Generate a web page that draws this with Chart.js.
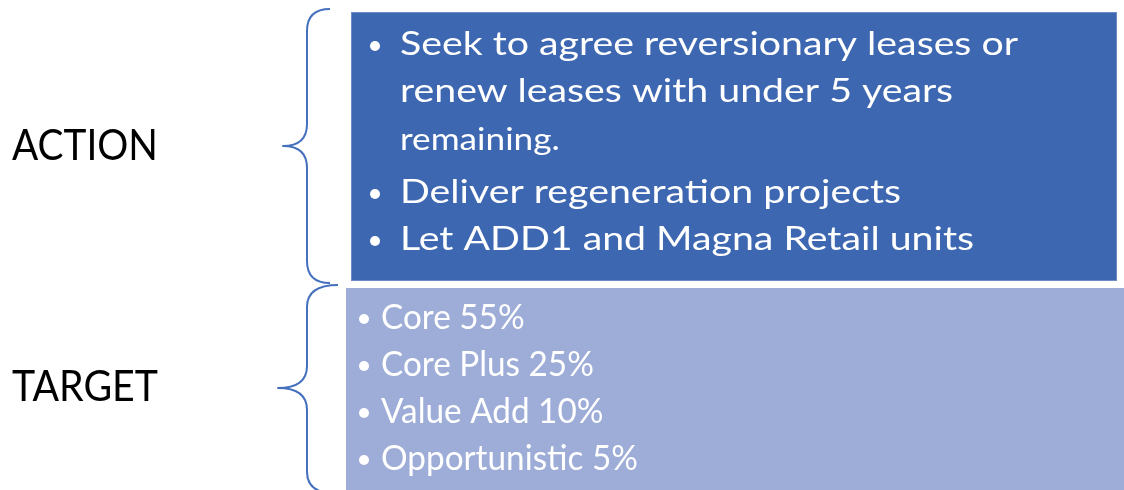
<!DOCTYPE html>
<html>
<head>
<meta charset="utf-8">
<script src="https://cdn.jsdelivr.net/npm/chart.js@4"></script>
<style>
html,body{margin:0;padding:0;background:#fff;}
#wrap{width:1124px;height:490px;}
</style>
</head>
<body>
<div id="wrap"><canvas id="c" width="1124" height="490"></canvas></div>
<script>
// ---- content ----
const sectionLabels = ["ACTION", "TARGET"];
const actionItems = [
  ["Seek to agree reversionary leases or", "renew leases with under 5 years", "remaining."],
  ["Deliver regeneration projects"],
  ["Let ADD1 and Magna Retail units"]
];
const targetItems = ["Core 55%", "Core Plus 25%", "Value Add 10%", "Opportunistic 5%"];

// ---- layout (pixel space of the 1124x490 scales) ----
const L = {
  actionBox: {x0: 351, x1: 1117, y0: 12, y1: 281, fill: "#3e67b1", stroke: "#6d8cc8"},
  targetBox: {x0: 346, x1: 1124, y0: 288, y1: 492, fill: "#9eadd7"},
  actionLines: [55, 102, 150, 203, 250],
  actionBulletX: 375, actionTextX: 400,
  targetLines: [329, 376, 423, 470],
  targetBulletX: 364, targetTextX: 381,
  labelY: [160, 401], labelX: 12,
  braces: [
    {endX: 330, top: 9, bottom: 283, midX: 307, tipX: 283, tipY: 146},
    {endX: 338, top: 285, bottom: 494, midX: 307, tipX: 278, tipY: 388}
  ]
};
const FONT = "Lato, 'Open Sans', sans-serif";

const diagram = {
  id: "diagram",
  afterDraw(chart) {
    const ctx = chart.ctx, sx = chart.scales.x, sy = chart.scales.y;
    const X = v => sx.getPixelForValue(v), Y = v => sy.getPixelForValue(v);
    ctx.save();
    // boxes
    const a = L.actionBox, t = L.targetBox;
    ctx.fillStyle = t.fill;
    ctx.fillRect(X(t.x0), Y(t.y0), X(t.x1) - X(t.x0), Y(t.y1) - Y(t.y0));
    ctx.fillStyle = a.fill;
    ctx.fillRect(X(a.x0), Y(a.y0), X(a.x1) - X(a.x0), Y(a.y1) - Y(a.y0));
    ctx.strokeStyle = a.stroke; ctx.lineWidth = 1;
    ctx.strokeRect(X(a.x0) + 0.5, Y(a.y0) + 0.5, X(a.x1) - X(a.x0) - 1, Y(a.y1) - Y(a.y0) - 1);

    // braces
    ctx.strokeStyle = "#4470bd"; ctx.lineWidth = 2; ctx.lineJoin = "round";
    L.braces.forEach(b => {
      const r = 22;
      ctx.beginPath();
      ctx.moveTo(X(b.endX), Y(b.top));
      ctx.quadraticCurveTo(X(b.midX), Y(b.top), X(b.midX), Y(b.top + r));
      ctx.lineTo(X(b.midX), Y(b.tipY - r));
      ctx.quadraticCurveTo(X(b.midX), Y(b.tipY), X(b.tipX), Y(b.tipY));
      ctx.quadraticCurveTo(X(b.midX), Y(b.tipY), X(b.midX), Y(b.tipY + r));
      ctx.lineTo(X(b.midX), Y(b.bottom - r));
      ctx.quadraticCurveTo(X(b.midX), Y(b.bottom), X(b.endX), Y(b.bottom));
      ctx.stroke();
    });

    function fitText(str, x, y, size, width, color) {
      ctx.font = size + "px " + FONT;
      const w = ctx.measureText(str).width;
      ctx.save();
      ctx.translate(x, y);
      ctx.scale(width / w, 1);
      ctx.fillStyle = color;
      ctx.textBaseline = "alphabetic";
      ctx.fillText(str, 0, 0);
      ctx.restore();
    }
    function scaleFor(str, size, width) {
      ctx.font = size + "px " + FONT;
      return width / ctx.measureText(str).width;
    }
    function drawText(str, x, y, size, k, color) {
      ctx.font = size + "px " + FONT;
      ctx.save(); ctx.translate(x, y); ctx.scale(k, 1);
      ctx.fillStyle = color; ctx.textBaseline = "alphabetic";
      ctx.fillText(str, 0, 0); ctx.restore();
    }

    // side labels
    sectionLabels.forEach((s, i) => fitText(s, X(L.labelX), Y(L.labelY[i]), 42, 146, "#000000"));

    // action text
    const ak = scaleFor(actionItems[0][0], 33.5, 618);
    let li = 0;
    actionItems.forEach(item => {
      item.forEach((line, j) => {
        const yb = Y(L.actionLines[li]);
        if (j === 0) {
          ctx.beginPath(); ctx.arc(X(L.actionBulletX), yb - 9, 5, 0, Math.PI * 2);
          ctx.fillStyle = "#ffffff"; ctx.fill();
        }
        const small = (line === "remaining.");
        drawText(line, X(L.actionTextX), yb, small ? 30 : 33.5, ak, "#ffffff");
        li++;
      });
    });

    // target text
    const tk = scaleFor(targetItems[3], 35, 257);
    targetItems.forEach((s, i) => {
      const yb = Y(L.targetLines[i]);
      ctx.beginPath(); ctx.arc(X(L.targetBulletX), yb - 10, 5, 0, Math.PI * 2);
      ctx.fillStyle = "#ffffff"; ctx.fill();
      drawText(s, X(L.targetTextX), yb, 35, tk, "#ffffff");
    });
    ctx.restore();
  }
};

new Chart(document.getElementById("c"), {
  type: "scatter",
  data: { datasets: [{ data: [], pointRadius: 0 }] },
  options: {
    responsive: false,
    animation: false,
    events: [],
    layout: { padding: 0 },
    plugins: { legend: { display: false }, tooltip: { enabled: false } },
    scales: {
      x: { type: "linear", min: 0, max: 1124, display: false },
      y: { type: "linear", min: 0, max: 490, reverse: true, display: false }
    }
  },
  plugins: [diagram]
});
</script>
</body>
</html>
